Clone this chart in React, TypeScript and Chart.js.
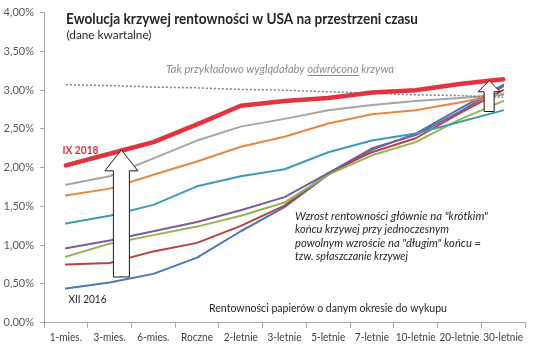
import React, { useEffect, useRef } from "react";
import { Chart, registerables } from "chart.js";

Chart.register(...registerables);

const categories = ["1-mies.", "3-mies.", "6-mies.", "Roczne", "2-letnie", "3-letnie", "5-letnie", "7-letnie", "10-letnie", "20-letnie", "30-letnie"];

const ix2018 = [2.03, 2.18, 2.33, 2.56, 2.80, 2.86, 2.90, 2.97, 3.00, 3.08, 3.14];
const seriesGray = [1.78, 1.89, 2.12, 2.35, 2.53, 2.63, 2.74, 2.81, 2.86, 2.90, 2.94];
const seriesOrange = [1.64, 1.73, 1.91, 2.08, 2.27, 2.40, 2.57, 2.69, 2.74, 2.84, 2.95];
const seriesTeal = [1.28, 1.38, 1.52, 1.76, 1.89, 1.98, 2.20, 2.35, 2.44, 2.59, 2.74];
const seriesPurple = [0.96, 1.06, 1.18, 1.30, 1.45, 1.62, 1.93, 2.25, 2.42, 2.72, 3.05];
const seriesGreen = [0.85, 1.02, 1.13, 1.24, 1.38, 1.55, 1.91, 2.16, 2.33, 2.62, 2.86];
const seriesDarkRed = [0.75, 0.77, 0.92, 1.03, 1.25, 1.51, 1.93, 2.20, 2.38, 2.70, 3.00];
const xii2016 = [0.44, 0.52, 0.63, 0.84, 1.18, 1.49, 1.91, 2.23, 2.44, 2.76, 3.07];
const invertedExample = [3.07, 3.06, 3.04, 3.03, 3.01, 3.00, 2.98, 2.96, 2.94, 2.93, 2.91];

const yTicks = [0, 0.5, 1, 1.5, 2, 2.5, 3, 3.5, 4];

// arrow annotations anchored to the scales: [xIndex, tipValue, headBaseValue, bottomValue, shaftHalf, headHalf]
const arrowLeft = [1.27, 2.23, 1.96, 0.59, 8, 16.5];
const arrowRight = [9.68, 3.125, 2.98, 2.725, 5, 11];

const FONT = "Lato, 'Open Sans', sans-serif";

function fitText(ctx: CanvasRenderingContext2D, text: string, x: number, y: number, font: string, color: string, maxW: number) {
  ctx.save();
  ctx.font = font;
  ctx.fillStyle = color;
  ctx.textAlign = "left";
  ctx.textBaseline = "alphabetic";
  const w = ctx.measureText(text).width;
  const s = maxW / w;
  ctx.translate(x, y);
  ctx.scale(s, 1);
  ctx.fillText(text, 0, 0);
  ctx.restore();
  return s;
}

function drawArrow(ctx: CanvasRenderingContext2D, cx: number, tipY: number, baseY: number, bottomY: number, sh: number, hh: number) {
  ctx.save();
  ctx.beginPath();
  ctx.moveTo(cx, tipY);
  ctx.lineTo(cx + hh, baseY);
  ctx.lineTo(cx + sh, baseY);
  ctx.lineTo(cx + sh, bottomY);
  ctx.lineTo(cx - sh, bottomY);
  ctx.lineTo(cx - sh, baseY);
  ctx.lineTo(cx - hh, baseY);
  ctx.closePath();
  ctx.fillStyle = "#ffffff";
  ctx.fill();
  ctx.strokeStyle = "#1a1a1a";
  ctx.lineWidth = 1;
  ctx.stroke();
  ctx.restore();
}

const annotations = {
  id: "annotations",
  afterDatasetsDraw(chart: any) {
    const ctx: CanvasRenderingContext2D = chart.ctx;
    const xs = chart.scales.x;
    const ys = chart.scales.y;
    for (const a of [arrowLeft, arrowRight]) {
      const cx = xs.getPixelForValue(a[0]);
      drawArrow(ctx, cx, ys.getPixelForValue(a[1]), ys.getPixelForValue(a[2]), ys.getPixelForValue(a[3]), a[4], a[5]);
    }
    // category labels, compressed like the narrow original font
    ctx.save();
    ctx.font = `11px ${FONT}`;
    const sx = 40 / ctx.measureText("10-letnie").width;
    ctx.fillStyle = "#404040";
    ctx.textBaseline = "alphabetic";
    categories.forEach((c, i) => {
      const px = xs.getPixelForValue(i);
      const w = ctx.measureText(c).width * sx;
      ctx.save();
      ctx.translate(px - w / 2, 341);
      ctx.scale(sx, 1);
      ctx.fillText(c, 0, 0);
      ctx.restore();
    });
    ctx.restore();

    fitText(ctx, "Ewolucja krzywej rentowności w USA na przestrzeni czasu", 66, 24, `bold 15px ${FONT}`, "#262626", 352);
    fitText(ctx, "(dane kwartalne)", 66.5, 38.5, `12px ${FONT}`, "#262626", 85);
    const pre = "Tak przykładowo wyglądałaby ";
    const full = pre + "odwrócona krzywa";
    const s = fitText(ctx, full, 166, 73, `italic 12px ${FONT}`, "#8c8c8c", 228);
    ctx.save();
    ctx.font = `italic 12px ${FONT}`;
    const x0 = 166 + ctx.measureText(pre).width * s;
    const x1 = x0 + ctx.measureText("odwrócona").width * s;
    ctx.strokeStyle = "#8c8c8c";
    ctx.lineWidth = 1;
    ctx.beginPath();
    ctx.moveTo(x0, 75.5);
    ctx.lineTo(x1, 75.5);
    ctx.stroke();
    ctx.restore();
    fitText(ctx, "IX 2018", 62.5, 153.5, `bold 11px ${FONT}`, "#e0303c", 36);
    fitText(ctx, "XII 2016", 68.5, 303, `11px ${FONT}`, "#262626", 38);
    const lines = [
      ["Wzrost rentowności głównie na \"krótkim\"", 193],
      ["końcu krzywej przy jednoczesnym", 154],
      ["powolnym wzroście na \"długim\" końcu =", 186],
      ["tzw. spłaszczanie krzywej", 113],
    ];
    const bases = [219.5, 233, 246.5, 260];
    lines.forEach((l, i) => fitText(ctx, l[0] as string, 295, bases[i], `italic 12px ${FONT}`, "#262626", l[1] as number));
    fitText(ctx, "Rentowności papierów o danym okresie do wykupu", 209, 312, `11.5px ${FONT}`, "#262626", 238);
  },
};

export default function App() {
  const ref = useRef<HTMLCanvasElement | null>(null);
  useEffect(() => {
    if (!ref.current) return;
    const mk = (label: string, data: number[], color: string, width: number, extra: any = {}) => ({
      label, data, borderColor: color, backgroundColor: color, borderWidth: width,
      pointRadius: 0, pointHoverRadius: 0, tension: 0, fill: false, borderCapStyle: "round", borderJoinStyle: "round", ...extra,
    });
    const chart = new Chart(ref.current, {
      type: "line",
      data: {
        labels: categories,
        datasets: [
          mk("IX 2018", ix2018, "#e2333f", 4.5),
          mk("Odwrócona", invertedExample, "#7f7f7f", 1.5, { borderDash: [2, 2], borderCapStyle: "butt" }),
          mk("Szary", seriesGray, "#a6a6a6", 2),
          mk("Pomarańczowy", seriesOrange, "#e8883c", 2),
          mk("Morski", seriesTeal, "#3a9db0", 2),
          mk("Fioletowy", seriesPurple, "#7a5e9e", 2),
          mk("Zielony", seriesGreen, "#93b650", 2),
          mk("Bordowy", seriesDarkRed, "#b8423f", 2),
          mk("XII 2016", xii2016, "#4a78b5", 2),
        ],
      },
      options: {
        responsive: false,
        animation: false,
        events: [],
        layout: { padding: { top: 12.7, right: 11, bottom: 0, left: 0 } },
        plugins: { legend: { display: false }, tooltip: { enabled: false }, title: { display: false } },
        scales: {
          x: {
            type: "category",
            offset: true,
            grid: { display: true, drawOnChartArea: false, offset: true, tickLength: 5, color: "#a6a6a6" },
            border: { display: true, color: "#a6a6a6", width: 1 },
            ticks: { display: false, autoSkip: false },
            afterFit: (s: any) => { s.height = 26.3; },
          },
          y: {
            min: 0, max: 4,
            afterBuildTicks: (s: any) => { s.ticks = yTicks.map((v) => ({ value: v })); },
            grid: { display: true, drawOnChartArea: false, tickLength: 4, color: "#a6a6a6" },
            border: { display: true, color: "#a6a6a6", width: 1 },
            ticks: {
              color: "#595959", font: { family: FONT, size: 11 }, padding: 6,
              callback: (v: any) => Number(v).toFixed(2).replace(".", ",") + "%",
            },
            afterFit: (s: any) => { s.width = 44; },
          },
        },
      },
      plugins: [annotations],
    } as any);
    return () => chart.destroy();
  }, []);
  return (
    <div style={{ position: "fixed", left: 0, top: 0, width: 536, height: 349, background: "#ffffff" }}>
      <canvas ref={ref} width={536} height={349} style={{ width: 536, height: 349, display: "block" }} />
    </div>
  );
}
